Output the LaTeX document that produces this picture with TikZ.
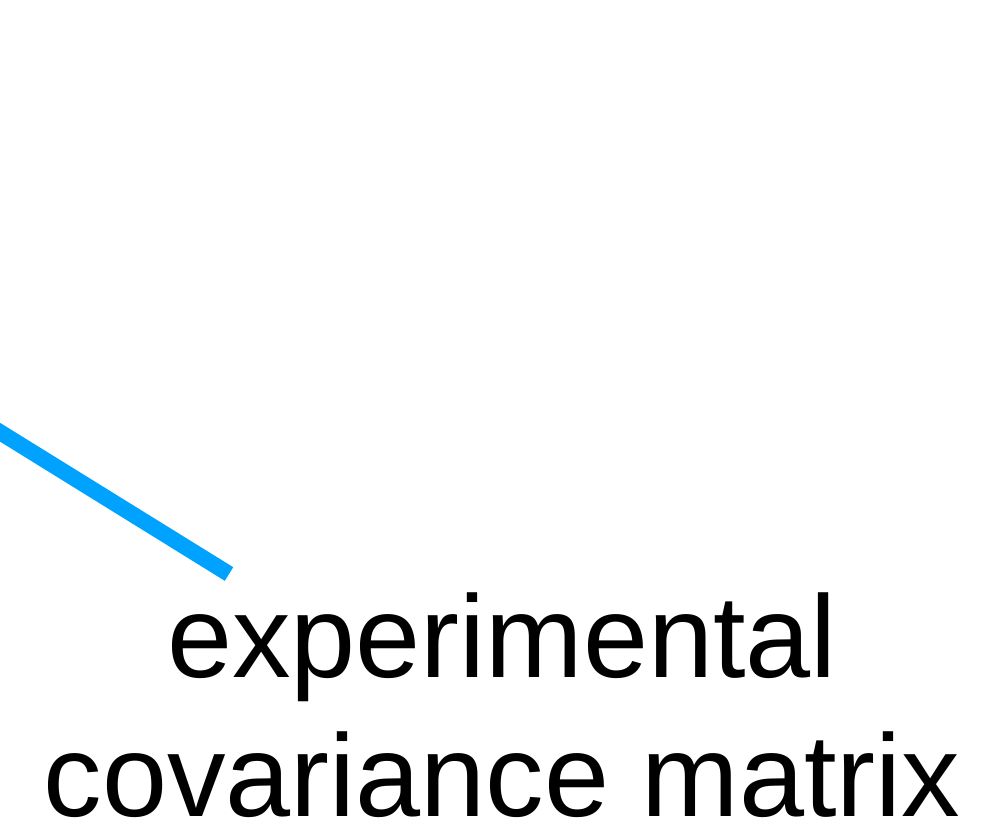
\documentclass[tikz,border=0pt]{standalone}
\usepackage{fontspec}
\setmainfont{Liberation Sans}
\definecolor{lineblue}{HTML}{00A2FF}
\begin{document}
\begin{tikzpicture}[x=1pt,y=-1pt,
  label text/.style={anchor=base,inner sep=0pt,text depth=0pt,font=\fontsize{117}{132}\selectfont}]
\useasboundingbox (0,0) rectangle (994,827);
\coordinate (s) at (-10,426);
\coordinate (e) at (229,574);
\draw[lineblue,line width=16pt] (s) -- (e);
\node[label text] (l1) at (502,677) {experimental};
\node[label text] (l2) at (502,816) {covariance matrix};
\end{tikzpicture}
\end{document}
